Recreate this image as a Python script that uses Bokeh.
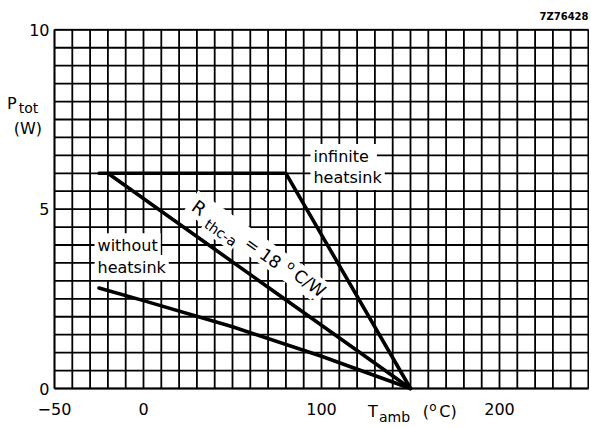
from bokeh.plotting import figure
from bokeh.models import Label, FixedTicker, LinearAxis, BoxAnnotation, Range1d
from bokeh.embed import file_html
from bokeh.resources import INLINE

# ---- data ----
infinite_T = [-25, 80, 150]
infinite_P = [6.0, 6.0, 0.0]
rth18_T = [-20, 150]
rth18_P = [6.0, 0.0]
without_T = [-25, 0, 50, 100, 150]
without_P = [2.8, 2.45, 1.72, 0.9, 0.0]

x_ticks = [-50, 0, 100, 200]
y_ticks = [0, 5, 10]
x_min, x_max = -50, 250
y_min, y_max = 0, 10
x_grid = list(range(-50, 251, 10))
y_grid = [i * 0.5 for i in range(0, 21)]

FONT = "DejaVu Sans"

# ---- layout: the data frame sits at pixels (54..588, 29.3..388) of the canvas ----
W, H = 589, 426
FL, FR, FT, FB = 54.0, 588.0, 29.3, 388.0
sx = (FR - FL) / (x_max - x_min)
sy = (FB - FT) / (y_max - y_min)
xr = Range1d(x_min - FL / sx, x_max + (W - FR) / sx)
yr = Range1d(y_min - (H - FB) / sy, y_max + FT / sy)

p = figure(width=W, height=H, x_range=xr, y_range=yr,
           output_backend="svg", toolbar_location=None,
           x_axis_location=None, y_axis_location=None,
           min_border=0, min_border_left=0, min_border_right=0,
           min_border_top=0, min_border_bottom=0)
p.background_fill_color = "white"
p.border_fill_color = "white"
p.outline_line_color = None
p.grid.visible = False

# grid (bounded to the chart area)
p.segment(x0=x_grid, y0=[y_min] * len(x_grid), x1=x_grid, y1=[y_max] * len(x_grid),
          line_color="black", line_width=1.8)
p.segment(x0=[x_min] * len(y_grid), y0=y_grid, x1=[x_max] * len(y_grid), y1=y_grid,
          line_color="black", line_width=1.8)

# frame border
p.add_layout(BoxAnnotation(left=x_min, right=x_max, bottom=y_min, top=y_max,
                           fill_alpha=0, line_color="black", line_width=2.5))

# axes fixed at the chart edges
xa = LinearAxis(ticker=FixedTicker(ticks=x_ticks), fixed_location=y_min)
ya = LinearAxis(ticker=FixedTicker(ticks=y_ticks), fixed_location=x_min)
xa.major_label_overrides = {-50: "\u221250"}
for ax in (xa, ya):
    ax.axis_line_color = None
    ax.major_tick_line_color = None
    ax.minor_tick_line_color = None
    ax.major_tick_in = 0
    ax.major_tick_out = 0
    ax.major_label_text_font = FONT
    ax.major_label_text_font_size = "16px"
    ax.major_label_text_color = "black"
xa.major_label_standoff = 14
ya.major_label_standoff = 5
p.add_layout(xa, "below")
p.add_layout(ya, "left")

# curves
for xs, ys in ((infinite_T, infinite_P), (rth18_T, rth18_P), (without_T, without_P)):
    p.line(xs, ys, line_color="black", line_width=3.6, line_cap="round", line_join="round")


def lab(x, y, text, size="16px", align="center", baseline="middle", angle=0, bg=None,
        style="normal", pad=0):
    kw = dict(x=x, y=y, text=text, text_font=FONT, text_font_size=size,
              text_align=align, text_baseline=baseline, text_color="black",
              angle=angle, angle_units="deg", text_font_style=style)
    if bg:
        kw.update(background_fill_color=bg, padding=pad)
    p.add_layout(Label(**kw))


# curve labels with white boxes
lab(93.8, 6.47, "infinite ", align="left", bg="white", pad=3)
lab(93.8, 5.88, "heatsink", align="left", bg="white", pad=3)
lab(-27.5, 3.98, "without", align="left", bg="white", pad=3)
lab(-27.5, 3.37, "heatsink", align="left", bg="white", pad=3)

# rotated Rth label: a white band, then the text pieces on it
ang = -35.5
lab(62.4, 3.99, "\u00a0" * 28, size="17px", angle=ang, bg="white", pad=2)
lab(31.2, 5.04, "R", size="18px", angle=ang, bg="white", pad=1)
lab(43.4, 4.34, "thc-a", size="14px", angle=ang, bg="white", pad=1)
lab(61.3, 4.0, "=", size="17px", angle=ang, bg="white", pad=1)
lab(71.5, 3.64, "18", size="17px", angle=ang, bg="white", pad=1)
lab(83.2, 3.43, "o", size="12px", angle=ang, bg="white", pad=1)
lab(93.4, 2.94, "C/W", size="17px", angle=ang, bg="white", pad=1)

# axis titles
lab(-74.0, 7.954, "P", size="16px")
lab(-64.6, 7.806, "tot", size="14px")
lab(-65.0, 7.24, "(W)", size="16px")

lab(128.9, -0.641, "T", size="16px")
lab(141.0, -0.781, "amb", size="14px")
lab(158.7, -0.641, "(", size="16px")
lab(162.6, -0.516, "o", size="12px")
lab(171.1, -0.655, "C)", size="16px")

lab(250, 10.37, "7Z76428", size="10px", align="right", style="bold")

open("out.html", "w").write(file_html(p, INLINE))
